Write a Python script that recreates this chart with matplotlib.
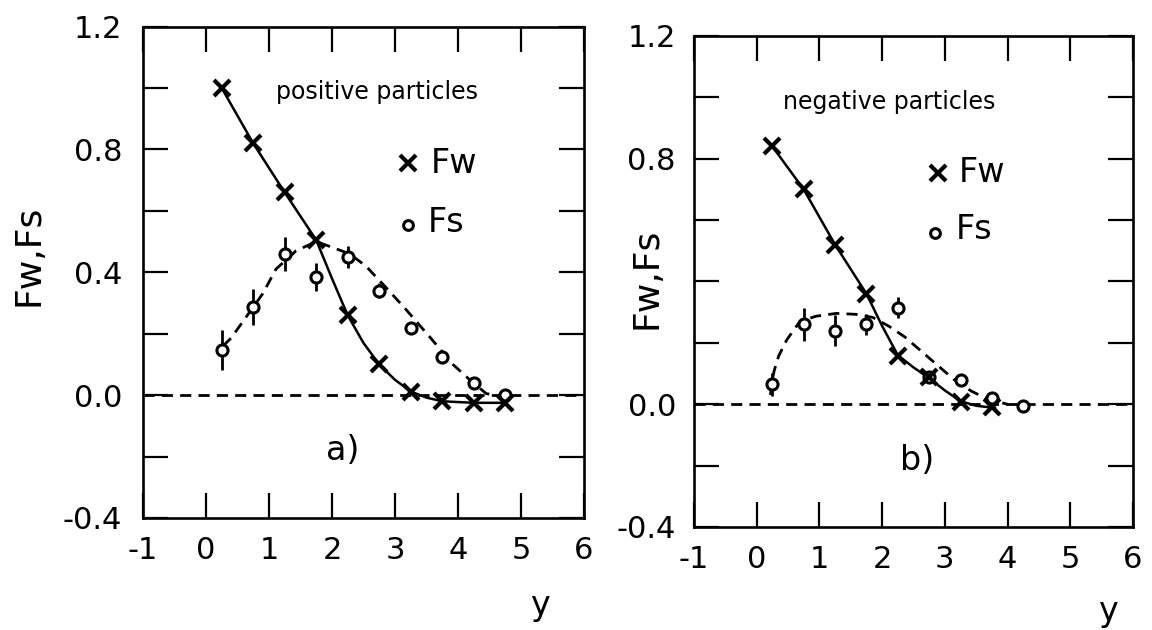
import numpy as np
import matplotlib
matplotlib.use("Agg")
import matplotlib.pyplot as plt

plt.rcParams["font.family"] = ["DejaVu Sans"]

# rapidity bin centres
y_bins = [0.25, 0.75, 1.25, 1.75, 2.25, 2.75, 3.25, 3.75, 4.25, 4.75]

# a) positive particles
fw_pos = [1.0, 0.82, 0.66, 0.505, 0.26, 0.10, 0.01, -0.02, -0.025, -0.025]
fs_pos = [0.147, 0.287, 0.46, 0.385, 0.45, 0.34, 0.22, 0.125, 0.04, 0.0]
fs_pos_err = [0.065, 0.06, 0.055, 0.045, 0.035, 0.025, 0.0, 0.0, 0.0, 0.0]

# b) negative particles
fw_neg = [0.84, 0.70, 0.52, 0.36, 0.156, 0.09, 0.006, -0.01]
fs_neg = [0.065, 0.26, 0.24, 0.26, 0.315, 0.09, 0.08, 0.02, -0.005]
fs_neg_err = [0.037, 0.055, 0.05, 0.035, 0.035, 0.0, 0.0, 0.0, 0.0]

# hand-drawn curves
fw_pos_curve_x = [0.25, 0.75, 1.25, 1.75, 2.0, 2.25, 2.5, 2.75, 3.0, 3.25, 3.5, 3.75, 4.25, 4.75]
fw_pos_curve_y = [1.0, 0.82, 0.66, 0.505, 0.38, 0.26, 0.17, 0.10, 0.05, 0.012, -0.008, -0.02, -0.025, -0.025]
fs_pos_curve_x = [0.27, 0.4, 0.9, 1.11, 1.43, 1.75, 2.02, 2.28, 2.54, 2.86, 3.17, 3.55, 3.92, 4.24, 4.45, 4.6]
fs_pos_curve_y = [0.16, 0.186, 0.33, 0.41, 0.47, 0.50, 0.48, 0.46, 0.42, 0.35, 0.28, 0.19, 0.10, 0.04, 0.005, 0.0]

fw_neg_curve_x = [0.25, 0.75, 1.25, 1.75, 2.0, 2.25, 2.5, 2.75, 3.0, 3.25, 3.5, 3.8]
fw_neg_curve_y = [0.84, 0.70, 0.52, 0.36, 0.255, 0.16, 0.12, 0.085, 0.045, 0.01, -0.005, -0.012]
fs_neg_curve_x = [0.22, 0.24, 0.28, 0.35, 0.48, 0.69, 0.95, 1.27, 1.58, 1.85, 2.11, 2.37, 2.64, 2.9, 3.15, 3.42, 3.69, 4.0]
fs_neg_curve_y = [0.03, 0.07, 0.11, 0.157, 0.21, 0.27, 0.287, 0.296, 0.293, 0.283, 0.254, 0.218, 0.17, 0.124, 0.08, 0.043, 0.016, 0.0]

x_labels = ["-1", "0", "1", "2", "3", "4", "5", "6"]
y_ticks = [-0.4, -0.2, 0.0, 0.2, 0.4, 0.6, 0.8, 1.0, 1.2]
y_labels_a = ["-0.4", "", "0.0", "", "0.4", "", "0.8", "", "1.2"]
y_labels_b = ["-0.4", "", "0.0", "", "", "", "0.8", "", "1.2"]

fig = plt.figure(figsize=(11.52, 6.3), dpi=100)
ax1 = fig.add_axes([0.1241, 0.1778, 0.3828, 0.780])
ax2 = fig.add_axes([0.6024, 0.1635, 0.3811, 0.7794])

dash = (4, 2.6)


def style_axes(ax, ylabels, pad_x, pad_y):
    ax.set_xlim(-1, 6)
    ax.set_ylim(-0.4, 1.2)
    ax.set_xticks(range(-1, 7))
    ax.set_xticklabels(x_labels, fontsize=22)
    ax.set_yticks(y_ticks)
    ax.set_yticklabels(ylabels, fontsize=22)
    ax.tick_params(direction="in", length=18, width=1.6, top=True, right=True)
    ax.tick_params(axis="x", pad=pad_x)
    ax.tick_params(axis="y", pad=pad_y)
    for s in ax.spines.values():
        s.set_linewidth(1.9)
    ax.axhline(0, color="black", lw=2.0, dashes=dash, zorder=1)


def draw_panel(ax, fw, fs, fs_err, fw_cx, fw_cy, fs_cx, fs_cy):
    ax.plot(fw_cx, fw_cy, color="black", lw=1.8, zorder=2)
    ax.plot(fs_cx, fs_cy, color="black", lw=2.0, dashes=dash, zorder=2)
    ax.errorbar(y_bins[:len(fs)], fs, yerr=fs_err, fmt="o", ms=8, mfc="white",
                mec="black", mew=2.2, ecolor="black", elinewidth=2.0, capsize=0, zorder=3)
    ax.plot(y_bins[:len(fw)], fw, "x", color="black", ms=12, mew=3.0, zorder=4)


style_axes(ax1, y_labels_a, 13, 15)
style_axes(ax2, y_labels_b, 13, 13)

draw_panel(ax1, fw_pos, fs_pos, fs_pos_err, fw_pos_curve_x, fw_pos_curve_y, fs_pos_curve_x, fs_pos_curve_y)
draw_panel(ax2, fw_neg, fs_neg, fs_neg_err, fw_neg_curve_x, fw_neg_curve_y, fs_neg_curve_x, fs_neg_curve_y)

# annotations
ax1.text(0.531, 0.867, "positive particles", transform=ax1.transAxes, fontsize=17,
         ha="center", va="center")
ax1.plot([0.601], [0.722], "x", color="black", ms=11, mew=3.0, transform=ax1.transAxes)
ax1.text(0.652, 0.722, "Fw", transform=ax1.transAxes, fontsize=24, va="center")
ax1.plot([0.601], [0.596], "o", color="black", mfc="white", ms=7, mew=2.2, transform=ax1.transAxes)
ax1.text(0.645, 0.602, "Fs", transform=ax1.transAxes, fontsize=24, va="center")
ax1.text(0.454, 0.138, "a)", transform=ax1.transAxes, fontsize=24, ha="center", va="center")

ax2.text(0.444, 0.866, "negative particles", transform=ax2.transAxes, fontsize=17,
         ha="center", va="center")
ax2.plot([0.556], [0.721], "x", color="black", ms=11, mew=3.0, transform=ax2.transAxes)
ax2.text(0.602, 0.721, "Fw", transform=ax2.transAxes, fontsize=24, va="center")
ax2.plot([0.549], [0.599], "o", color="black", mfc="white", ms=7, mew=2.2, transform=ax2.transAxes)
ax2.text(0.597, 0.605, "Fs", transform=ax2.transAxes, fontsize=24, va="center")
ax2.text(0.508, 0.136, "b)", transform=ax2.transAxes, fontsize=24, ha="center", va="center")

# axis titles
fig.text(28 / 1152, 1 - 255 / 630, "Fw,Fs", rotation=90, fontsize=26, ha="center", va="center")
fig.text(647 / 1152, 1 - 278 / 630, "Fw,Fs", rotation=90, fontsize=26, ha="center", va="center")
fig.text(540 / 1152, 1 - 605 / 630, "y", fontsize=24, ha="center", va="center")
fig.text(1108 / 1152, 1 - 612 / 630, "y", fontsize=24, ha="center", va="center")

plt.savefig("out.png", dpi=100)
